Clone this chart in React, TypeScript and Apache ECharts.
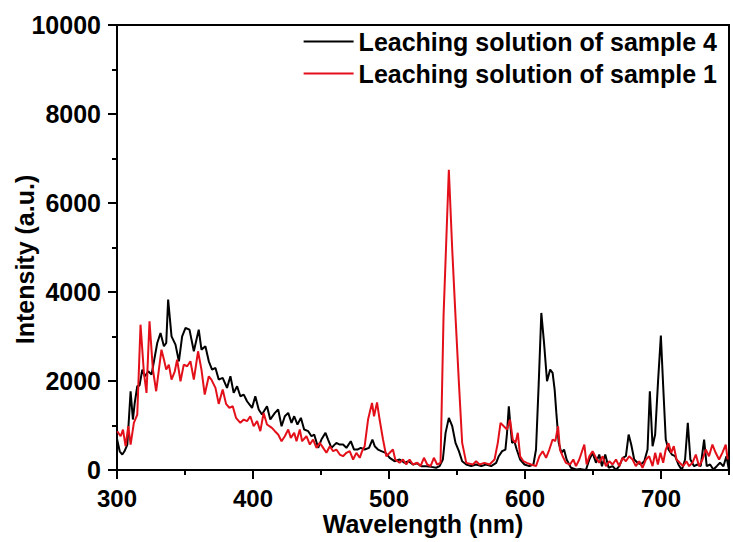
import React, { useEffect, useRef } from "react";
import * as echarts from "echarts";

const seriesNames = ["Leaching solution of sample 4", "Leaching solution of sample 1"];
const seriesColors = ["#000000", "#e3101a"];

const sample4Wavelength = [
  300.0, 302.0, 303.9, 305.5, 307.6, 310.0, 311.7, 313.0, 314.9, 316.6, 318.6, 320.5, 323.0, 325.4, 327.4, 329.6,
  332.0, 334.5, 336.2, 337.6, 340.1, 343.0, 345.5, 347.9, 350.4, 353.3, 356.5, 360.1, 362.1, 365.0, 367.5, 369.9,
  372.4, 374.8, 377.7, 380.9, 383.4, 385.8, 388.3, 390.7, 393.2, 395.6, 399.3, 401.7, 404.2, 406.6, 410.3, 412.7,
  416.1, 418.5, 421.0, 423.4, 425.9, 428.3, 430.3, 432.7, 435.2, 437.6, 440.6, 443.0, 445.0, 447.9, 450.3, 453.3,
  455.2, 457.7, 461.3, 463.8, 466.2, 468.7, 471.9, 474.3, 476.8, 479.2, 482.1, 485.3, 487.8, 489.5, 491.9, 494.4,
  497.5, 500.5, 504.1, 507.8, 511.5, 514.4, 517.6, 520.8, 523.7, 527.4, 531.0, 534.7, 537.2, 539.6, 541.6, 544.0,
  546.5, 548.9, 551.4, 553.8, 556.8, 560.4, 564.1, 567.8, 571.4, 575.1, 578.8, 580.7, 583.2, 585.6, 586.8, 588.1,
  589.3, 590.5, 592.2, 593.9, 596.4, 599.6, 603.2, 606.2, 608.1, 610.1, 612.0, 614.0, 616.2, 618.5, 620.3, 621.8,
  623.0, 624.8, 626.7, 628.7, 630.6, 633.8, 637.5, 641.1, 644.8, 647.3, 649.7, 652.2, 654.6, 656.6, 659.0, 661.5,
  664.4, 666.9, 669.3, 671.8, 674.2, 676.2, 678.1, 680.3, 682.8, 685.2, 687.7, 690.1, 691.8, 693.8, 695.7, 697.9,
  699.9, 701.6, 703.5, 705.5, 708.0, 710.4, 712.8, 715.3, 717.7, 719.7, 721.6, 724.3, 726.8, 729.2, 731.7, 733.6,
  736.1, 738.5, 741.0, 743.4, 745.9, 748.1, 750.0,
];
const sample4Intensity = [
  700, 420, 348, 420, 572, 1770, 1134, 1500, 1882, 1900, 2256, 2106, 2218, 2144, 2481, 2855,
  3080, 2780, 2855, 3828, 3004, 2818, 2443, 3004, 3192, 3155, 2668, 3155, 2705, 2780, 2443, 2256,
  2293, 2032, 2069, 1845, 2106, 1733, 1882, 1657, 1695, 1545, 1396, 1657, 1358, 1246, 1433, 1134,
  1284, 1358, 984, 1208, 1284, 1060, 1208, 1022, 1172, 909, 872, 759, 797, 498, 685, 835,
  685, 498, 610, 572, 572, 498, 647, 460, 460, 498, 460, 498, 685, 535, 460, 423,
  386, 274, 198, 236, 162, 198, 124, 150, 86, 86, 70, 50, 86, 236, 835, 1172,
  984, 610, 423, 198, 124, 87, 124, 87, 124, 87, 160, 310, 423, 460, 835, 1433,
  984, 610, 648, 460, 236, 124, 87, 124, 460, 1957, 3529, 2855, 1994, 2256, 2181, 1807,
  1300, 610, 385, 460, 236, 50, 10, 20, 0, 236, 386, 162, 348, 86, 348, 50,
  86, 0, 86, 274, 310, 797, 572, 236, 162, 124, 198, 460, 1770, 535, 797, 2032,
  3020, 1886, 685, 460, 348, 310, 124, 0, 236, 1060, 236, 86, 124, 86, 685, 86,
  124, 10, 86, 162, 86, 310, 0,
];

const sample1Wavelength = [
  300.2, 302.7, 304.4, 306.3, 308.3, 310.0, 312.4, 314.9, 317.3, 319.8, 321.7, 323.9, 326.4, 328.8, 330.8, 332.7,
  334.5, 336.2, 338.1, 340.1, 342.5, 344.2, 346.7, 349.1, 351.6, 354.0, 356.5, 359.6, 362.1, 364.5, 367.5, 369.4,
  372.4, 374.8, 377.7, 380.2, 382.6, 385.1, 387.5, 390.7, 393.2, 395.6, 398.0, 400.5, 403.0, 405.4, 407.8, 410.3,
  413.9, 416.1, 418.5, 421.0, 423.4, 425.9, 427.8, 430.3, 432.0, 434.4, 436.1, 439.3, 441.8, 444.2, 446.7, 449.1,
  451.6, 454.0, 456.5, 458.9, 461.3, 463.8, 466.2, 468.7, 471.1, 473.6, 476.0, 478.5, 480.2, 482.1, 484.6, 487.5,
  489.0, 491.2, 493.1, 495.6, 498.0, 500.5, 502.9, 504.6, 507.8, 510.3, 512.7, 515.1, 517.6, 520.8, 523.2, 525.7,
  528.1, 530.6, 533.0, 535.4, 537.9, 540.1, 544.0, 546.5, 548.9, 551.4, 553.8, 556.8, 561.7, 564.1, 566.5, 570.2,
  573.9, 577.6, 580.0, 582.0, 584.4, 586.8, 589.0, 591.0, 593.0, 594.7, 596.4, 598.8, 601.3, 604.5, 608.1, 610.6,
  613.0, 615.5, 617.9, 620.3, 622.3, 624.3, 625.7, 627.7, 630.1, 633.1, 635.5, 637.5, 639.9, 643.6, 645.3, 647.3,
  649.7, 652.2, 654.6, 657.1, 659.5, 662.0, 664.4, 666.9, 669.3, 671.8, 674.2, 676.6, 679.1, 681.5, 684.0, 686.4,
  688.9, 691.3, 693.8, 695.7, 697.7, 699.6, 701.6, 703.5, 705.5, 707.5, 709.4, 711.4, 713.8, 716.3, 718.7, 720.7,
  723.1, 725.6, 728.0, 730.5, 732.9, 735.3, 737.8, 740.2, 742.7, 745.1, 747.6, 749.0,
];
const sample1Intensity = [
  872, 759, 909, 535, 984, 572, 1060, 1246, 3266, 2181, 1733, 3341, 2256, 1770, 2256, 2705,
  2481, 2256, 2368, 2032, 2218, 2481, 1994, 2368, 2331, 2443, 2032, 2668, 2256, 1695, 2106, 2032,
  1845, 1486, 1808, 1486, 1396, 1433, 1172, 1060, 1134, 1097, 1209, 984, 1097, 872, 1283, 1022,
  947, 872, 797, 647, 759, 909, 722, 835, 647, 909, 647, 759, 572, 685, 498, 610,
  498, 386, 535, 423, 460, 348, 310, 386, 423, 236, 386, 274, 423, 535, 1134, 1508,
  1208, 1520, 1134, 685, 310, 386, 460, 236, 162, 236, 124, 236, 124, 162, 86, 274,
  124, 86, 274, 124, 162, 3453, 6746, 4950, 3453, 1957, 610, 160, 124, 198, 124, 160,
  124, 236, 610, 1060, 984, 909, 1134, 685, 610, 835, 310, 198, 160, 124, 87, 310,
  423, 273, 460, 685, 648, 984, 460, 310, 160, 124, 236, 87, 236, 572, 124, 310,
  423, 274, 162, 310, 86, 198, 124, 236, 86, 274, 198, 310, 236, 86, 198, 50,
  236, 310, 86, 386, 124, 386, 162, 460, 602, 386, 535, 236, 162, 86, 198, 86,
  162, 348, 86, 236, 460, 310, 572, 386, 236, 386, 572, 236,
];

const xMin = 300;
const xMax = 750;
const xMajorStep = 100;
const xMinorStep = 50;
const yMin = 0;
const yMax = 10000;
const yMajorStep = 2000;

const xAxisTitle = "Wavelength (nm)";
const yAxisTitle = "Intensity (a.u.)";

const FONT = "'Liberation Sans', Arial, Helvetica, sans-serif";

function zip(xs: number[], ys: number[]): number[][] {
  return xs.map((x, i) => [x, ys[i]]);
}

export default function App() {
  const ref = useRef<HTMLDivElement>(null);

  useEffect(() => {
    if (!ref.current) return;
    const chart = echarts.init(ref.current, undefined, { renderer: "svg" });
    const axisLine = { show: true, lineStyle: { color: "#000", width: 2 } };
    const tickStyle = { color: "#000", width: 2 };
    const labelStyle = {
      color: "#000",
      fontFamily: FONT,
      fontWeight: "bold" as const,
      fontSize: 24,
      lineHeight: 20,
    };
    const nameStyle = {
      color: "#000",
      fontFamily: FONT,
      fontWeight: "bold" as const,
      fontSize: 25,
      lineHeight: 24,
    };

    chart.setOption({
      animation: false,
      backgroundColor: "#ffffff",
      grid: {
        left: 117,
        right: 4,
        top: 25,
        bottom: 72,
        containLabel: false,
        outerBoundsMode: "none",
        show: true,
        borderColor: "#000",
        borderWidth: 2,
        backgroundColor: "transparent",
      },
      legend: {
        orient: "vertical",
        right: 11,
        top: 24,
        icon: "rect",
        itemWidth: 50,
        itemHeight: 2,
        itemGap: 7,
        data: seriesNames,
        textStyle: {
          color: "#000",
          fontFamily: FONT,
          fontWeight: "bold",
          fontSize: 25,
        },
      },
      xAxis: [
        {
          type: "value",
          min: xMin,
          max: xMax,
          interval: xMajorStep,
          position: "bottom",
          axisLine,
          axisTick: { show: true, inside: false, length: 9, lineStyle: tickStyle },
          axisLabel: { ...labelStyle, margin: 18, showMaxLabel: false, formatter: (v: number) => String(v) },
          splitLine: { show: false },
          name: xAxisTitle,
          nameLocation: "middle",
          nameGap: 42,
          nameMoveOverlap: false,
          nameTextStyle: nameStyle,
        },
        {
          type: "value",
          min: xMin,
          max: xMax,
          interval: xMinorStep,
          position: "bottom",
          axisLine: { show: false },
          axisTick: { show: true, inside: false, length: 5, lineStyle: tickStyle },
          axisLabel: { show: false },
          splitLine: { show: false },
        },
      ],
      yAxis: {
        type: "value",
        min: yMin,
        max: yMax,
        interval: yMajorStep,
        axisLine,
        axisTick: { show: true, inside: false, length: 9, lineStyle: tickStyle },
        minorTick: { show: true, splitNumber: 2, length: 5, lineStyle: tickStyle },
        axisLabel: { ...labelStyle, fontSize: 25, margin: 16, formatter: (v: number) => String(v) },
        splitLine: { show: false },
        minorSplitLine: { show: false },
        name: yAxisTitle,
        nameLocation: "middle",
        nameGap: 80,
        nameMoveOverlap: false,
        nameTextStyle: { ...nameStyle, padding: [0, 24, 0, 0] },
      },
      series: [
        {
          name: seriesNames[0],
          type: "line",
          xAxisIndex: 0,
          data: zip(sample4Wavelength, sample4Intensity),
          symbol: "none",
          showSymbol: false,
          lineStyle: { color: seriesColors[0], width: 2 },
          itemStyle: { color: seriesColors[0] },
          z: 2,
        },
        {
          name: seriesNames[1],
          type: "line",
          xAxisIndex: 0,
          data: zip(sample1Wavelength, sample1Intensity),
          symbol: "none",
          showSymbol: false,
          lineStyle: { color: seriesColors[1], width: 2 },
          itemStyle: { color: seriesColors[1] },
          z: 3,
        },
      ],
    });
    return () => chart.dispose();
  }, []);

  return (
    <div
      ref={ref}
      style={{ position: "fixed", left: 0, top: 0, width: 733, height: 542, background: "#fff" }}
    />
  );
}
